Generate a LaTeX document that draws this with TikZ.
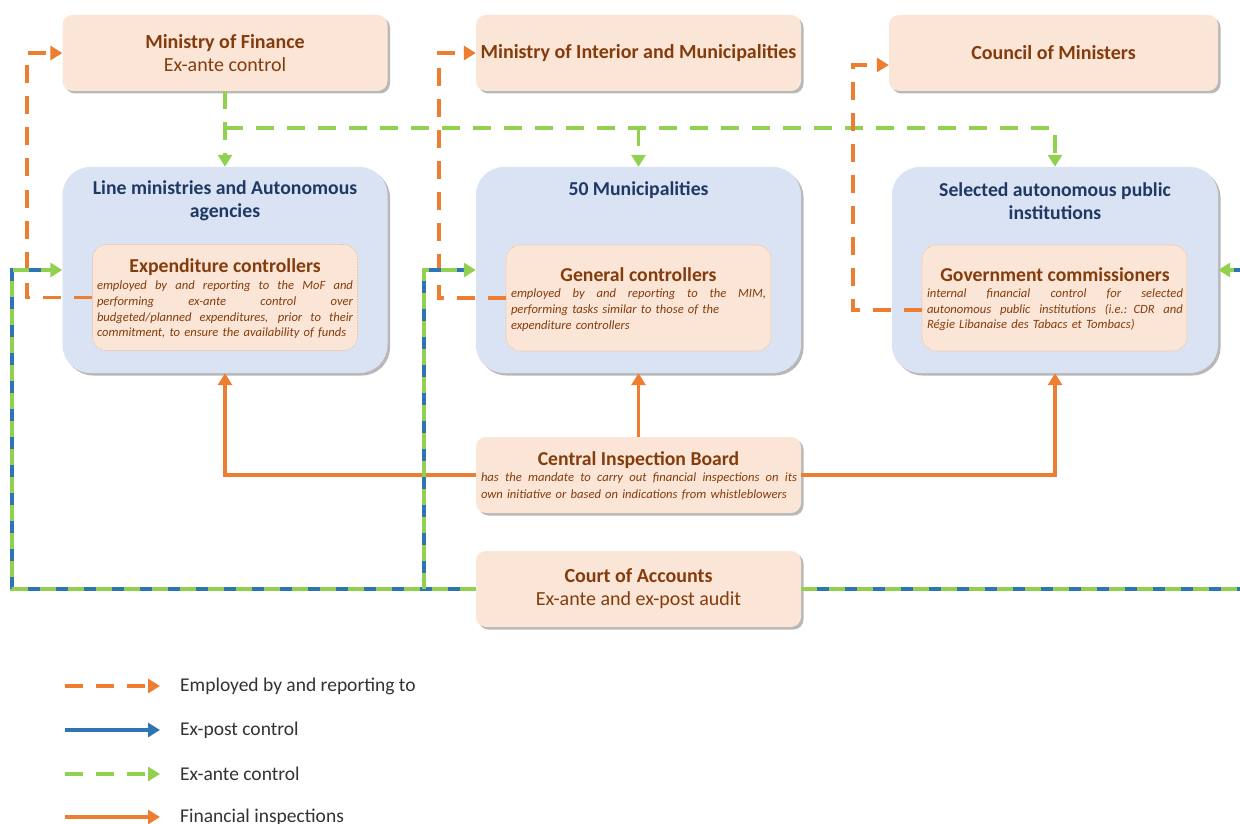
\documentclass[tikz,border=0pt]{standalone}
\usepackage{fontspec}
\setmainfont{Carlito}
\usetikzlibrary{arrows.meta,shadows,calc}
\definecolor{peach}{HTML}{FBE5D6}
\definecolor{peachline}{HTML}{F4B183}
\definecolor{bluefill}{HTML}{DAE3F3}
\definecolor{orng}{HTML}{ED7D31}
\definecolor{grn}{HTML}{92D050}
\definecolor{blu}{HTML}{2E75B6}
\definecolor{brn}{HTML}{843C0C}
\definecolor{navy}{HTML}{1F3864}
\definecolor{legtext}{HTML}{333333}
\newcommand\jline[2]{{\spaceskip=0.22em plus 1fil\relax\makebox[#1][s]{#2}}}
\tikzset{
  x=1pt, y=-1pt,
  shade/.style={drop shadow={shadow xshift=2.5pt, shadow yshift=-2.5pt, fill=black, opacity=0.28}},
  peachbox/.style={rectangle, rounded corners=10pt, fill=peach, draw=none, shade,
    minimum width=325pt, minimum height=76pt, align=center, inner sep=0pt,
    text=brn, font=\fontsize{20}{23}\selectfont},
  bluebox/.style={rectangle, rounded corners=28pt, fill=bluefill, draw=none, shade,
    minimum width=325pt, minimum height=206pt, inner sep=0pt},
  innerbox/.style={rectangle, rounded corners=14pt, fill=peach, draw=peachline, densely dotted, line width=0.6pt,
    minimum width=265pt, minimum height=106pt, inner sep=0pt},
  bluetitle/.style={align=center, text=navy, font=\fontsize{19.7}{23}\selectfont\bfseries, inner sep=0pt},
  innertitle/.style={align=center, text=brn, font=\fontsize{19.7}{22}\selectfont\bfseries, inner sep=0pt},
  desc/.style={align=left, text=brn, font=\fontsize{12.6}{15.7}\selectfont\itshape, inner sep=0pt},
  tip/.style={-{Triangle[length=12pt,width=14pt]}},
  employed/.style={draw=orng, line width=3.6pt, dash pattern=on 18pt off 13pt, tip, color=orng},
  exante/.style={draw=grn, line width=3.6pt, dash pattern=on 18pt off 13pt, tip, color=grn},
  inspect/.style={draw=orng, line width=3.6pt, tip, color=orng},
  expost/.style={draw=grn, color=grn, line width=3.6pt, dash pattern=on 16pt off 12pt, tip,
    preaction={draw=blu, solid, line width=3.6pt, -, shorten >=6pt}},
  expostleg/.style={draw=blu, color=blu, line width=3.6pt, tip},
  legend/.style={anchor=west, text=legtext, font=\fontsize{19.5}{22}\selectfont, inner sep=0pt},
}
\begin{document}
\begin{tikzpicture}
\useasboundingbox (0,0) rectangle (1240,824);
\fill[white] (0,0) rectangle (1240,824);

% top boxes
\node[peachbox] (mof) at (225,53) {\textbf{Ministry of Finance}\\Ex-ante control};
\node[peachbox] (mim) at (638.5,53) {\textbf{Ministry of Interior and Municipalities}};
\node[peachbox, minimum width=329pt] (com) at (1053.5,53) {\textbf{Council of Ministers}};

% blue boxes
\node[bluebox] (lm) at (225,270) {};
\node[bluebox] (mun) at (638.5,270) {};
\node[bluebox, minimum width=326pt] (sel) at (1055,270) {};
\node[bluetitle] (lmt) at (225,201) {Line ministries and Autonomous\\agencies};
\node[bluetitle] (munt) at (638.5,190) {50 Municipalities};
\node[bluetitle] (selt) at (1055,201) {Selected autonomous public\\institutions};

% inner boxes
\node[innerbox] (exp) at (225,297.5) {};
\node[innerbox] (gen) at (638.5,298) {};
\node[innerbox] (gov) at (1054.5,298) {};
\node[innertitle] (expt) at (225,267) {Expenditure controllers};
\node[innertitle] (gent) at (638.5,275) {General controllers};
\node[innertitle] (govt) at (1055,275) {Government commissioners};
\node[desc, text width=256pt] (expd) at (225,310) {%
\jline{256pt}{employed by and reporting to the MoF and}\\
\jline{256pt}{performing ex-ante control over}\\
\jline{256pt}{budgeted/planned expenditures, prior to their}\\
commitment, to ensure the availability of funds};
\node[desc, text width=255pt] (gend) at (638.5,310) {%
\jline{255pt}{employed by and reporting to the MIM,}\\
performing tasks similar to those of the\\
expenditure controllers};
\node[desc, text width=256pt] (govd) at (1055,310) {%
\jline{256pt}{internal financial control for selected}\\
\jline{256pt}{autonomous public institutions (i.e.: CDR and}\\
Régie Libanaise des Tabacs et Tombacs)};

% lower boxes
\node[peachbox] (cib) at (638.5,475) {};
\node[innertitle] (cibt) at (638.5,460) {Central Inspection Board};
\node[desc, text width=316pt, font=\fontsize{12.6}{17}\selectfont\itshape] (cibd) at (639,486) {%
\jline{316pt}{has the mandate to carry out financial inspections on its}\\
own initiative or based on indications from whistleblowers};
\node[peachbox] (coa) at (638.5,589) {\textbf{Court of Accounts}\\Ex-ante and ex-post audit};

% ex-ante control (green dashed)
\coordinate (br1) at (225,128);
\coordinate (br2) at (638.5,128);
\draw[exante] (mof.south) -- (lm.north);
\draw[exante] (br1) -| (sel.north);
\draw[exante] (br2) -- (mun.north);

% employed by (orange dashed)
\draw[employed] (exp.west) -- ++(-65,0) |- (mof.west);
\draw[employed] (gen.west) -- ++(-67,0) |- (mim.west);
\draw[employed] ([yshift=-12pt]gov.west) -- ++(-69,0) |- ([yshift=-12pt]com.west);

% financial inspections (orange solid)
\draw[inspect] (cib.west) -| (lm.south);
\draw[inspect] (cib.north) -- (mun.south);
\draw[inspect] (cib.east) -| (sel.south);

% court of accounts (blue + green)
\coordinate (ca1) at (12,589);
\coordinate (ca2) at (424,589);
\coordinate (ca3) at (1250,589);
\draw[expost] (coa.west) -- (ca1) |- (lm.west);
\draw[expost] (ca2) |- (mun.west);
\draw[expost] (coa.east) -- (ca3) |- (sel.east);

% legend
\coordinate (l1a) at (65,686); \coordinate (l1b) at (160,686);
\coordinate (l2a) at (65,730); \coordinate (l2b) at (160,730);
\coordinate (l3a) at (65,774); \coordinate (l3b) at (160,774);
\coordinate (l4a) at (65,817); \coordinate (l4b) at (160,817);
\draw[employed] (l1a) -- (l1b);
\draw[expostleg] (l2a) -- (l2b);
\draw[exante] (l3a) -- (l3b);
\draw[inspect] (l4a) -- (l4b);
\node[legend] (t1) at (180,686) {Employed by and reporting to};
\node[legend] (t2) at (180,730) {Ex-post control};
\node[legend] (t3) at (180,774) {Ex-ante control};
\node[legend] (t4) at (180,817) {Financial inspections};
\end{tikzpicture}
\end{document}
